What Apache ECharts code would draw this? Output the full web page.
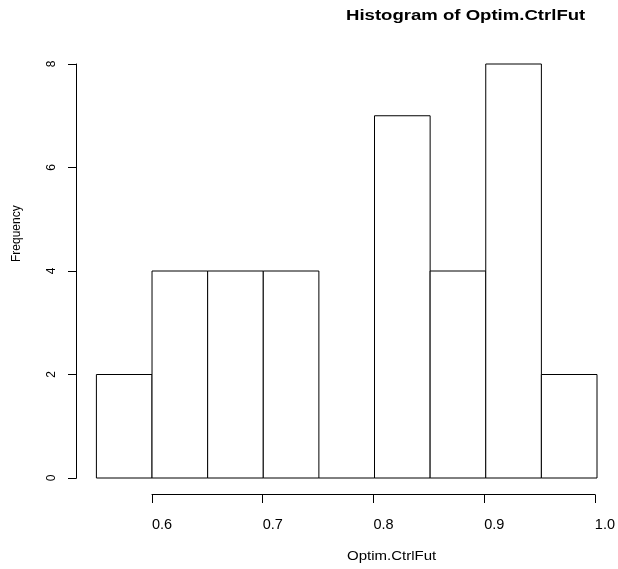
<!DOCTYPE html>
<html>
<head>
<meta charset="utf-8">
<script src="https://cdn.jsdelivr.net/npm/echarts@6/dist/echarts.min.js"></script>
<style>
  html, body { margin: 0; padding: 0; background: #ffffff; }
  #chart { width: 618px; height: 569px; }
</style>
</head>
<body>
<div id="chart"></div>
<script>
// Histogram bins (left and right edges) and their frequencies
var binStarts = [0.55, 0.60, 0.65, 0.70, 0.75, 0.80, 0.85, 0.90, 0.95];
var binEnds   = [0.60, 0.65, 0.70, 0.75, 0.80, 0.85, 0.90, 0.95, 1.00];
var counts    = [2, 4, 4, 4, 0, 7, 4, 8, 2];

// Axis tick values
var xTicks = [0.6, 0.7, 0.8, 0.9, 1.0];
var yTicks = [0, 2, 4, 6, 8];

var titleText = 'Histogram of Optim.CtrlFut';
var xName = 'Optim.CtrlFut';
var yName = 'Frequency';

var FONT = '"Liberation Sans", Arial, Helvetica, sans-serif';
var INK = '#000000';
// horizontal text is drawn slightly widened
var WIDEN = 1.25;

var barData = binStarts.map(function (s, i) { return [s, binEnds[i], counts[i]]; });

var chart = echarts.init(document.getElementById('chart'), null, { renderer: 'canvas' });

chart.setOption({
  backgroundColor: '#ffffff',
  animation: false,
  grid: [
    // bars: x from 0.55 to 1.0, y from 0 to 8
    { left: 96.4, right: 21, top: 64, bottom: 91 },
    // labelled x axis: 0.6 to 1.0, sitting below the bars
    { left: 152, right: 21, top: 64, bottom: 74.5 }
  ],
  xAxis: [
    {
      gridIndex: 0, type: 'value', min: 0.55, max: 1.0,
      axisLine: { show: false }, axisTick: { show: false },
      axisLabel: { show: false }, splitLine: { show: false }
    },
    {
      gridIndex: 1, type: 'value', min: 0.6, max: 1.0, interval: 0.1,
      position: 'bottom',
      axisLine: { show: true, onZero: false, lineStyle: { color: INK, width: 1 } },
      axisTick: { show: true, length: 8.5, inside: false, lineStyle: { color: INK, width: 1 } },
      axisLabel: {
        show: true, margin: 23, align: 'left',
        fontFamily: FONT, fontSize: 14.5, color: INK,
        customValues: xTicks,
        formatter: function (v) { return v.toFixed(1); }
      },
      splitLine: { show: false }
    }
  ],
  yAxis: [
    {
      gridIndex: 0, type: 'value', min: 0, max: 8, interval: 2,
      position: 'left', offset: 19.9,
      axisLine: { show: true, lineStyle: { color: INK, width: 1 } },
      axisTick: { show: true, length: 8.5, lineStyle: { color: INK, width: 1 } },
      axisLabel: {
        show: true, rotate: 90, margin: 19,
        fontFamily: FONT, fontSize: 12, color: INK,
        customValues: yTicks
      },
      splitLine: { show: false }
    },
    {
      gridIndex: 1, type: 'value', min: 0, max: 8, show: false
    }
  ],
  graphic: [
    {
      type: 'text',
      x: 346, y: 16, scaleX: WIDEN + 0.04,
      style: { text: titleText, font: 'bold 14.4px ' + FONT, fill: INK, align: 'left', verticalAlign: 'middle' }
    },
    {
      type: 'text',
      x: 347, y: 557, scaleX: WIDEN,
      style: { text: xName, font: '12px ' + FONT, fill: INK, align: 'left', verticalAlign: 'middle' }
    },
    {
      type: 'text',
      x: 17, y: 262, rotation: Math.PI / 2,
      style: { text: yName, font: '12px ' + FONT, fill: INK, align: 'left', verticalAlign: 'middle' }
    }
  ],
  series: [
    {
      type: 'custom',
      xAxisIndex: 0, yAxisIndex: 0,
      data: barData,
      clip: false,
      renderItem: function (params, api) {
        var p0 = api.coord([api.value(0), 0]);
        var p1 = api.coord([api.value(1), api.value(2)]);
        if (api.value(2) <= 0) {
          // empty bin: only its base line shows
          return {
            type: 'line',
            shape: { x1: p0[0], y1: p0[1], x2: p1[0], y2: p0[1] },
            style: { stroke: INK, lineWidth: 1 }
          };
        }
        return {
          type: 'rect',
          shape: { x: p0[0], y: p1[1], width: p1[0] - p0[0], height: p0[1] - p1[1] },
          style: { fill: '#ffffff', stroke: INK, lineWidth: 1 }
        };
      }
    }
  ]
});
</script>
</body>
</html>
